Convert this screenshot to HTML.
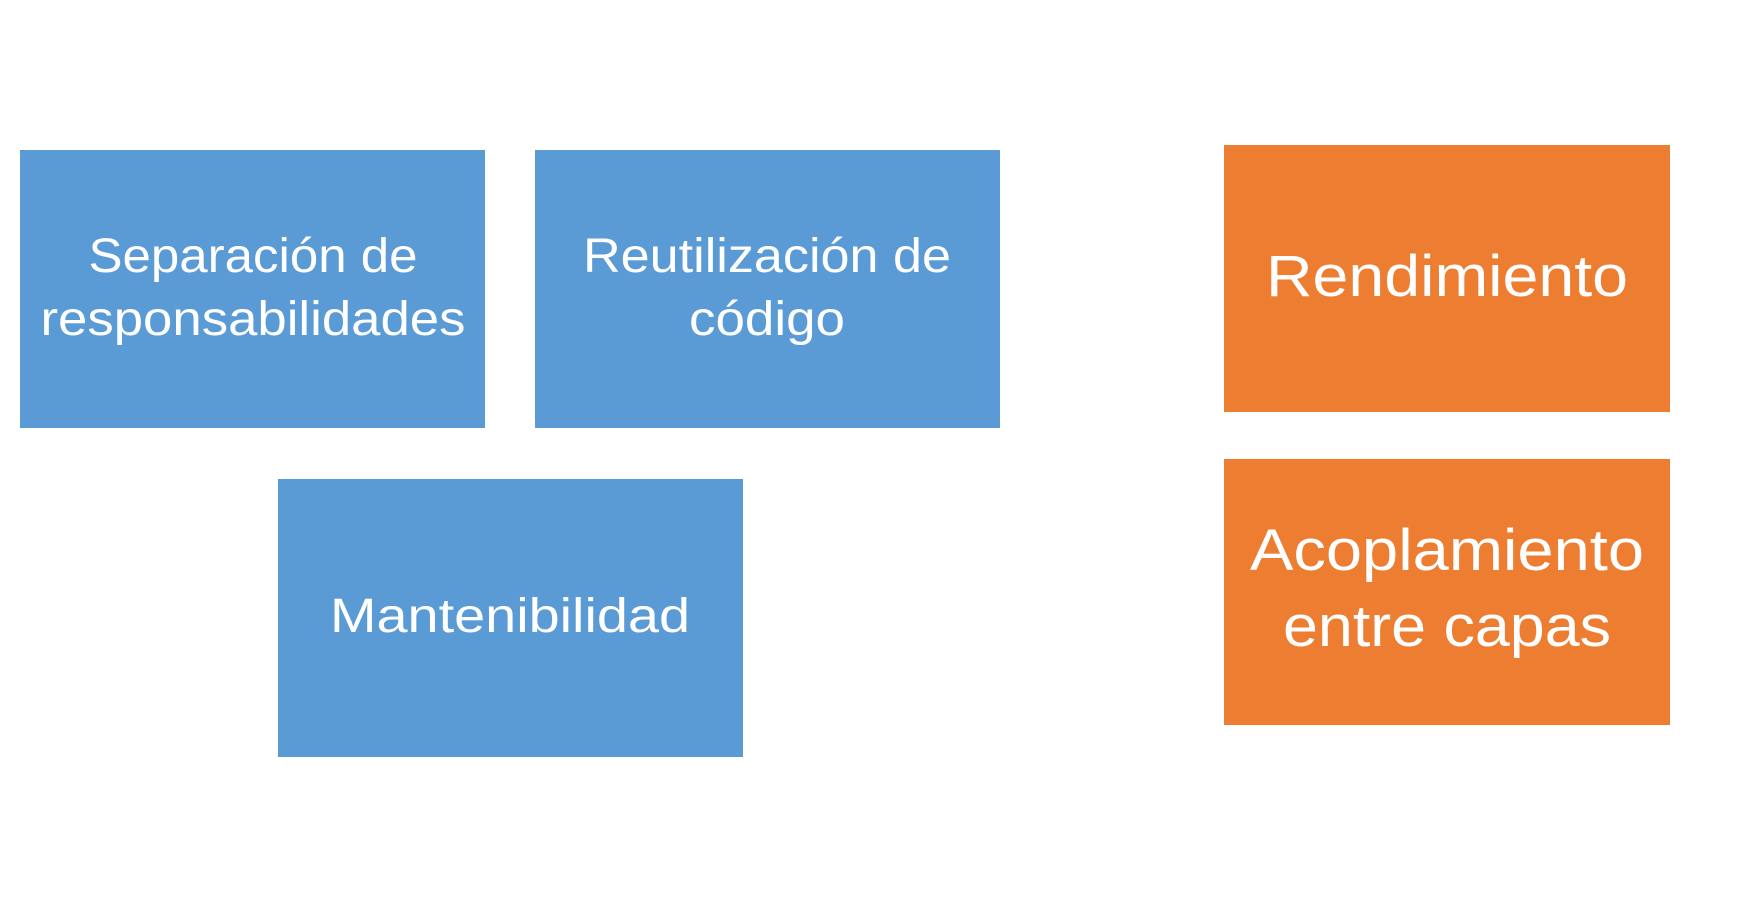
<!DOCTYPE html>
<html><head><style>html,body{margin:0;padding:0;background:#fff;}svg{display:block}</style></head>
<body>
<svg width="1764" height="904" viewBox="0 0 1764 904" xmlns="http://www.w3.org/2000/svg">
<rect x="20" y="150" width="465" height="278" fill="#5B9BD5"/>
<rect x="535" y="150" width="465" height="278" fill="#5B9BD5"/>
<rect x="278" y="479" width="465" height="278" fill="#5B9BD5"/>
<rect x="1224" y="145" width="446" height="267" fill="#ED7D31"/>
<rect x="1224" y="459" width="446" height="266" fill="#ED7D31"/>
<g fill="#fff" font-family="Liberation Sans, sans-serif" text-anchor="middle">
<text x="253" y="272" font-size="48" textLength="329" lengthAdjust="spacingAndGlyphs">Separación de</text>
<text x="253" y="335" font-size="48" textLength="425" lengthAdjust="spacingAndGlyphs">responsabilidades</text>
<text x="767" y="272" font-size="48" textLength="368" lengthAdjust="spacingAndGlyphs">Reutilización de</text>
<text x="767" y="335" font-size="48" textLength="156" lengthAdjust="spacingAndGlyphs">código</text>
<text x="510" y="632" font-size="48" textLength="360" lengthAdjust="spacingAndGlyphs">Mantenibilidad</text>
<text x="1447" y="296" font-size="58" textLength="362" lengthAdjust="spacingAndGlyphs">Rendimiento</text>
<text x="1447" y="570" font-size="58" textLength="394" lengthAdjust="spacingAndGlyphs">Acoplamiento</text>
<text x="1447" y="646" font-size="58" textLength="328" lengthAdjust="spacingAndGlyphs">entre capas</text>
</g>
</svg>
</body></html>
